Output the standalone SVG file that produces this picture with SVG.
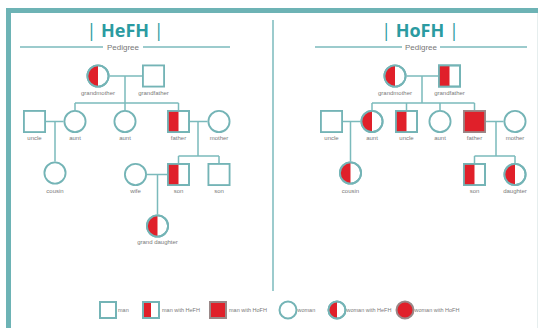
<svg xmlns="http://www.w3.org/2000/svg" width="538" height="328" viewBox="0 0 538 328">
<defs>
<style>
.ln{stroke:#7bbabc;stroke-width:1.5;fill:none}
.nd{stroke:#74b4b6;stroke-width:2;fill:#fff}
.hf{stroke:#9a8888}
.red{fill:#e0202a;stroke:none}
.lb{font-family:"Liberation Sans Narrow","Liberation Sans",sans-serif;font-size:6px;fill:#7a7a7a;text-anchor:middle}
.lg{font-family:"Liberation Sans Narrow","Liberation Sans",sans-serif;font-size:5.5px;fill:#7a7a7a}
.tt{font-family:"Open Sans","Liberation Sans",sans-serif;font-size:18px;fill:#2b9ba1;text-anchor:middle}
.pd{font-family:"Liberation Sans Narrow","Liberation Sans",sans-serif;font-size:8px;fill:#777;text-anchor:middle}
</style>
<symbol id="sq" viewBox="-12.5 -12.5 25 25" overflow="visible"><rect x="-11.5" y="-11.5" width="23" height="23" class="nd"/></symbol>
<symbol id="sqh" viewBox="-12.5 -12.5 25 25" overflow="visible"><rect x="-11.5" y="-11.5" width="23" height="23" class="nd"/><rect x="-11.5" y="-11.5" width="11.5" height="23" class="red"/><rect x="-11.5" y="-11.5" width="23" height="23" class="nd" fill="none" style="fill:none"/></symbol>
<symbol id="sqf" viewBox="-12.5 -12.5 25 25" overflow="visible"><rect x="-11.5" y="-11.5" width="23" height="23" class="nd hf" style="fill:#e0202a"/></symbol>
<symbol id="ci" viewBox="-12.5 -12.5 25 25" overflow="visible"><circle r="11.5" class="nd"/></symbol>
<symbol id="cih" viewBox="-12.5 -12.5 25 25" overflow="visible"><circle r="11.5" class="nd"/><path d="M0,-11.5 A11.5,11.5 0 0 0 0,11.5 Z" class="red"/><circle r="11.5" class="nd" style="fill:none"/></symbol>
</defs>
<rect x="0" y="0" width="538" height="328" fill="#fff"/>
<!-- frame -->
<rect x="6" y="8" width="532" height="5" fill="#6db3b5"/>
<rect x="6" y="8" width="5" height="320" fill="#6db3b5"/>
<line x1="537.5" y1="13" x2="537.5" y2="328" stroke="#e6eeee" stroke-width="1"/>
<line x1="273" y1="20" x2="273" y2="291" class="ln"/>

<!-- titles -->
<g id="title-hefh">
<text x="125" y="37" class="tt"><tspan font-weight="400">| </tspan><tspan font-weight="700">HeFH</tspan><tspan font-weight="400"> |</tspan></text>
<line x1="20" y1="47" x2="103" y2="47" class="ln"/>
<line x1="143" y1="47" x2="230" y2="47" class="ln"/>
<text x="123" y="50" class="pd">Pedigree</text>
</g>
<g id="title-hofh">
<text x="420" y="37" class="tt"><tspan font-weight="400">| </tspan><tspan font-weight="700">HoFH</tspan><tspan font-weight="400"> |</tspan></text>
<line x1="315" y1="47" x2="402" y2="47" class="ln"/>
<line x1="440" y1="47" x2="527" y2="47" class="ln"/>
<text x="421" y="50" class="pd">Pedigree</text>
</g>

<!-- connectors -->
<g id="connectors">
<!-- left -->
<path class="ln" d="M109.5,76 H142 M125,76 V103 M75,103 H178.5 M75,103 V110 M125,103 V110 M178.5,103 V110"/>
<path class="ln" d="M46,121.5 H63.5 M55,121.5 V161.5"/>
<path class="ln" d="M190,121.5 H207.5 M198,121.5 V156 M178.5,156 H219 M178.5,156 V163 M219,156 V163"/>
<path class="ln" d="M147,174.5 H167 M157.5,174.5 V214.5"/>
<!-- right -->
<path class="ln" d="M406.5,76 H438 M422,76 V103 M372,103 H474.5 M372,103 V110 M406.5,103 V110 M440,103 V110 M474.5,103 V110"/>
<path class="ln" d="M343,121.5 H360.5 M350.5,121.5 V161.5"/>
<path class="ln" d="M486,121.5 H503.5 M496,121.5 V156 M474.5,156 H515 M474.5,156 V163 M515,156 V163"/>
</g>

<!-- left pedigree nodes -->
<g id="l-grandmother"><use href="#cih" x="86.5" y="64.5" width="23" height="23"/><text x="98" y="95" class="lb">grandmother</text></g>
<g id="l-grandfather"><use href="#sq" x="142" y="64.5" width="23" height="23"/><text x="153.5" y="95" class="lb">grandfather</text></g>
<g id="l-uncle"><use href="#sq" x="23" y="110" width="23" height="23"/><text x="34.5" y="140" class="lb">uncle</text></g>
<g id="l-aunt1"><use href="#ci" x="63.5" y="110" width="23" height="23"/><text x="75" y="140" class="lb">aunt</text></g>
<g id="l-aunt2"><use href="#ci" x="113.5" y="110" width="23" height="23"/><text x="125" y="140" class="lb">aunt</text></g>
<g id="l-father"><use href="#sqh" x="167" y="110" width="23" height="23"/><text x="178.5" y="140" class="lb">father</text></g>
<g id="l-mother"><use href="#ci" x="207.5" y="110" width="23" height="23"/><text x="219" y="140" class="lb">mother</text></g>
<g id="l-cousin"><use href="#ci" x="43.5" y="161.5" width="23" height="23"/><text x="55" y="193" class="lb">cousin</text></g>
<g id="l-wife"><use href="#ci" x="124" y="163" width="23" height="23"/><text x="135.5" y="193" class="lb">wife</text></g>
<g id="l-son1"><use href="#sqh" x="167" y="163" width="23" height="23"/><text x="178.5" y="193" class="lb">son</text></g>
<g id="l-son2"><use href="#sq" x="207.5" y="163" width="23" height="23"/><text x="219" y="193" class="lb">son</text></g>
<g id="l-granddaughter"><use href="#cih" x="146" y="214.5" width="23" height="23"/><text x="157.5" y="244" class="lb">grand daughter</text></g>

<!-- right pedigree nodes -->
<g id="r-grandmother"><use href="#cih" x="383.5" y="64.5" width="23" height="23"/><text x="395" y="95" class="lb">grandmother</text></g>
<g id="r-grandfather"><use href="#sqh" x="438" y="64.5" width="23" height="23"/><text x="449.5" y="95" class="lb">grandfather</text></g>
<g id="r-uncle1"><use href="#sq" x="320" y="110" width="23" height="23"/><text x="331.5" y="140" class="lb">uncle</text></g>
<g id="r-aunt1"><use href="#cih" x="360.5" y="110" width="23" height="23"/><text x="372" y="140" class="lb">aunt</text></g>
<g id="r-uncle2"><use href="#sqh" x="395" y="110" width="23" height="23"/><text x="406.5" y="140" class="lb">uncle</text></g>
<g id="r-aunt2"><use href="#ci" x="428.5" y="110" width="23" height="23"/><text x="440" y="140" class="lb">aunt</text></g>
<g id="r-father"><use href="#sqf" x="463" y="110" width="23" height="23"/><text x="474.5" y="140" class="lb">father</text></g>
<g id="r-mother"><use href="#ci" x="503.5" y="110" width="23" height="23"/><text x="515" y="140" class="lb">mother</text></g>
<g id="r-cousin"><use href="#cih" x="339" y="161.5" width="23" height="23"/><text x="350.5" y="193" class="lb">cousin</text></g>
<g id="r-son"><use href="#sqh" x="463" y="163" width="23" height="23"/><text x="474.5" y="193" class="lb">son</text></g>
<g id="r-daughter"><use href="#cih" x="503.5" y="163" width="23" height="23"/><text x="515" y="193" class="lb">daughter</text></g>

<!-- legend -->
<g id="legend">
<rect x="100" y="302" width="16" height="16" class="nd"/>
<text x="118" y="312" class="lg">man</text>
<rect x="143" y="302" width="16" height="16" class="nd"/><rect x="143" y="302" width="8" height="16" class="red"/><rect x="143" y="302" width="16" height="16" class="nd" style="fill:none"/>
<text x="162" y="312" class="lg">man with HeFH</text>
<rect x="210" y="302" width="16" height="16" class="nd hf" style="fill:#e0202a"/>
<text x="229" y="312" class="lg">man with HoFH</text>
<circle cx="288" cy="310" r="8.5" class="nd"/>
<text x="297.5" y="312" class="lg">woman</text>
<circle cx="337" cy="310" r="8.5" class="nd"/><path d="M337,301.5 A8.5,8.5 0 0 0 337,318.5 Z" class="red"/><circle cx="337" cy="310" r="8.5" class="nd" style="fill:none"/>
<text x="346.5" y="312" class="lg">woman with HeFH</text>
<circle cx="405" cy="310" r="8.5" class="nd hf" style="fill:#e0202a"/>
<text x="414.5" y="312" class="lg">woman with HoFH</text>
</g>
</svg>
